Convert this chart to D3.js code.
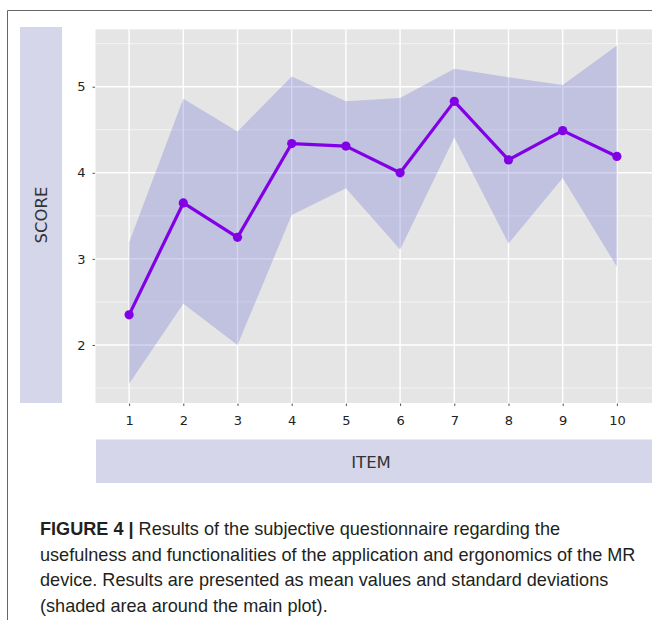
<!DOCTYPE html>
<html>
<head>
<meta charset="utf-8">
<script src="https://cdn.jsdelivr.net/npm/d3@7"></script>
<style>
  html, body { margin: 0; padding: 0; background: #fff; }
  svg { display: block; }
</style>
</head>
<body>
<svg id="chart" width="652" height="620"></svg>
<script>
const items = [1, 2, 3, 4, 5, 6, 7, 8, 9, 10];
const meanScore  = [2.35, 3.65, 3.25, 4.34, 4.31, 4.00, 4.83, 4.15, 4.49, 4.19];
const upperScore = [3.19, 4.86, 4.48, 5.12, 4.83, 4.87, 5.21, 5.11, 5.02, 5.48];
const lowerScore = [1.55, 2.48, 2.00, 3.51, 3.82, 3.11, 4.41, 3.18, 3.94, 2.91];
const yTicks = [2, 3, 4, 5];
const yMinorTicks = [1.5, 2.5, 3.5, 4.5, 5.5];
const xTickLabels = ["1", "2", "3", "4", "5", "6", "7", "8", "9", "10"];
const xTitle = "ITEM";
const yTitle = "SCORE";
const captionBold = "FIGURE 4 |";
const captionLines = [
  " Results of the subjective questionnaire regarding the",
  "usefulness and functionalities of the application and ergonomics of the MR",
  "device. Results are presented as mean values and standard deviations",
  "(shaded area around the main plot)."
];

const data = items.map((it, i) => ({ item: it, mean: meanScore[i], lo: lowerScore[i], hi: upperScore[i] }));

const svg = d3.select("#chart");

// frame
svg.append("line").attr("x1", 7.5).attr("y1", 10.5).attr("x2", 652).attr("y2", 10.5)
  .attr("stroke", "#666").attr("stroke-width", 1);
svg.append("line").attr("x1", 7.5).attr("y1", 10.5).attr("x2", 7.5).attr("y2", 620)
  .attr("stroke", "#666").attr("stroke-width", 1);

const x = d3.scaleLinear().domain([0.38, 10.62]).range([95.5, 650.5]);
const y = d3.scaleLinear().domain([1.326, 5.667]).range([403, 29.3]);

const panelTop = y(5.667), panelBottom = y(1.326), panelLeft = x(0.38);

// panel background
svg.append("rect").attr("x", panelLeft).attr("y", panelTop)
  .attr("width", 652 - panelLeft).attr("height", panelBottom - panelTop)
  .attr("fill", "#e5e5e5");

const grid = svg.append("g");
grid.selectAll(".ymin").data(yMinorTicks).join("line")
  .attr("x1", panelLeft).attr("x2", 652)
  .attr("y1", d => y(d)).attr("y2", d => y(d))
  .attr("stroke", "#f4f4f4").attr("stroke-width", 1);
grid.selectAll(".ymaj").data(yTicks).join("line")
  .attr("x1", panelLeft).attr("x2", 652)
  .attr("y1", d => y(d)).attr("y2", d => y(d))
  .attr("stroke", "#fff").attr("stroke-width", 1.4);
grid.selectAll(".xmaj").data(items).join("line")
  .attr("x1", d => x(d)).attr("x2", d => x(d))
  .attr("y1", panelTop).attr("y2", panelBottom)
  .attr("stroke", "#fff").attr("stroke-width", 1.4);

// band
const area = d3.area().x(d => x(d.item)).y0(d => y(d.lo)).y1(d => y(d.hi));
svg.append("path").datum(data).attr("d", area)
  .attr("fill", "rgb(119,119,214)").attr("fill-opacity", 0.32);

// line
const line = d3.line().x(d => x(d.item)).y(d => y(d.mean));
svg.append("path").datum(data).attr("d", line)
  .attr("fill", "none").attr("stroke", "#8200e6").attr("stroke-width", 3.2)
  .attr("stroke-linejoin", "round");
svg.selectAll(".pt").data(data).join("circle")
  .attr("cx", d => x(d.item)).attr("cy", d => y(d.mean)).attr("r", 4.6)
  .attr("fill", "#8200e6");

// axes
const xAxis = d3.axisBottom(x).tickValues(items).tickFormat((d, i) => xTickLabels[i])
  .tickSize(2.5).tickPadding(10);
const gx = svg.append("g").attr("transform", `translate(0,${panelBottom + 0.5})`).call(xAxis);
gx.select(".domain").remove();
gx.selectAll("line").attr("stroke", "#555");
gx.selectAll("text").attr("font-family", "DejaVu Sans").attr("font-size", 13).attr("fill", "#222");

const yAxis = d3.axisLeft(y).tickValues(yTicks).tickFormat(d3.format("d"))
  .tickSize(2.5).tickPadding(7);
const gy = svg.append("g").attr("transform", `translate(${panelLeft - 0.5},0)`).call(yAxis);
gy.select(".domain").remove();
gy.selectAll("line").attr("stroke", "#555");
gy.selectAll("text").attr("font-family", "DejaVu Sans").attr("font-size", 13).attr("fill", "#222");

// title strips
svg.append("rect").attr("x", 20).attr("y", 27).attr("width", 42).attr("height", panelBottom - 27)
  .attr("fill", "#d6d6ea");
svg.append("text").attr("transform", `translate(46.5,${(27 + panelBottom) / 2}) rotate(-90)`)
  .attr("text-anchor", "middle").attr("font-family", "DejaVu Sans").attr("font-size", 16.5)
  .attr("fill", "#333").text(yTitle);

svg.append("rect").attr("x", 96).attr("y", 439.5).attr("width", 652 - 96).attr("height", 43.5)
  .attr("fill", "#d6d6ea");
svg.append("text").attr("x", 371).attr("y", 467.5)
  .attr("text-anchor", "middle").attr("font-family", "DejaVu Sans").attr("font-size", 16.5)
  .attr("fill", "#333").text(xTitle);

// caption
const cap = svg.append("g").attr("font-family", "Liberation Sans, Arial, sans-serif")
  .attr("font-size", 18.1).attr("fill", "#231f20");
const baselines = [535, 560.5, 586, 611.5];
const t0 = cap.append("text").attr("x", 40).attr("y", baselines[0]);
t0.append("tspan").attr("font-weight", "bold").text(captionBold);
t0.append("tspan").text(captionLines[0]);
captionLines.slice(1).forEach((s, i) => {
  cap.append("text").attr("x", 40).attr("y", baselines[i + 1]).text(s);
});
</script>
</body>
</html>
